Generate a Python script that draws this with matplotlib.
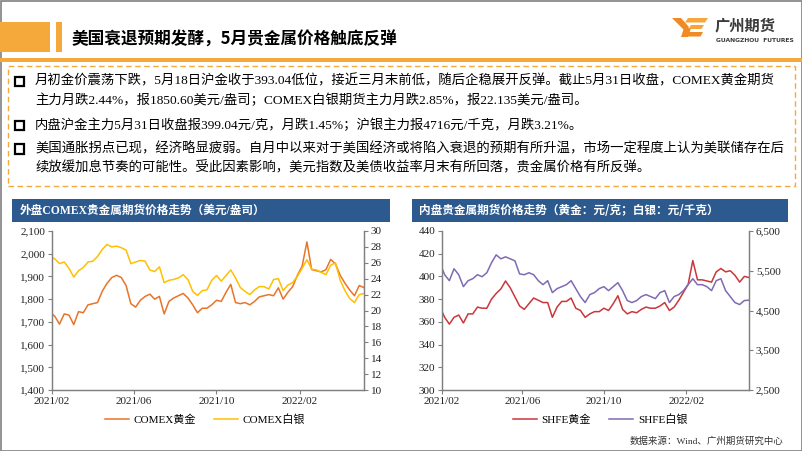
import matplotlib
matplotlib.use('Agg')
import matplotlib.pyplot as plt
import matplotlib.patches as mpatches
from matplotlib.ticker import FuncFormatter, MultipleLocator
import pandas as pd

W, H = 802, 451
MIX = ['Liberation Serif', 'Noto Sans CJK SC']
SANS = ['Noto Sans CJK SC', 'DejaVu Sans']

# weekly points (Tuesdays), first point is the start of the axis
dates = pd.DatetimeIndex(['2021-02-26']).append(
    pd.date_range('2021-03-02', '2022-05-31', freq='W-TUE'))

comex_gold = [1734, 1725, 1690, 1735, 1730, 1688, 1745, 1740, 1775, 1780,
              1785, 1835, 1870, 1895, 1905, 1895, 1860, 1780, 1765, 1795,
              1812, 1822, 1800, 1812, 1735, 1790, 1805, 1815, 1825, 1805,
              1775, 1740, 1760, 1760, 1775, 1795, 1790, 1830, 1865, 1785,
              1780, 1785, 1775, 1790, 1810, 1815, 1820, 1815, 1850, 1800,
              1830, 1855, 1905, 1945, 2052, 1930, 1925, 1920, 1930, 1975,
              1955, 1905, 1870, 1840, 1815, 1860, 1850.6]
comex_silver = [26.7, 26.5, 25.9, 26.1, 25.3, 24.2, 25.0, 25.4, 26.1, 26.2,
                26.8, 27.7, 28.3, 28.0, 28.1, 27.9, 27.6, 25.9, 26.1, 26.3,
                26.2, 25.1, 24.9, 25.5, 23.5, 23.8, 23.9, 24.1, 24.5, 23.9,
                22.4, 21.9, 22.5, 22.6, 23.8, 24.4, 23.7, 24.4, 25.1, 24.1,
                22.9, 22.4, 22.0, 22.6, 23.0, 23.0, 22.7, 23.9, 24.0, 22.5,
                23.2, 23.5, 24.3, 25.3, 26.4, 25.2, 25.1, 24.8, 24.5, 25.7,
                26.0, 23.8, 22.5, 21.5, 21.0, 22.0, 22.135]
shfe_gold = [369, 364, 358, 364, 366, 359, 367, 367, 373, 372,
             372, 380, 385, 389, 396, 390, 382, 374, 371, 376,
             381, 379, 377, 377, 364, 373, 378, 378, 381, 372,
             370, 364, 367, 369, 369, 372, 370, 376, 383, 371,
             367, 369, 368, 371, 373, 372, 372, 374, 377, 370,
             373, 379, 386, 393, 414, 397, 397, 396, 395, 404,
             407, 404, 405, 401, 395, 400, 399.04]
shfe_silver = [5560, 5400, 5250, 5550, 5400, 5100, 5250, 5300, 5400, 5350,
               5450, 5700, 5900, 5800, 5850, 5800, 5750, 5420, 5400, 5450,
               5400, 5250, 5150, 5250, 4950, 5050, 5100, 5150, 5250, 5050,
               4850, 4700, 4900, 4950, 5050, 5100, 5000, 5100, 5200, 5000,
               4750, 4700, 4750, 4850, 4900, 4850, 4800, 4950, 5000, 4700,
               4850, 4900, 5000, 5150, 5300, 5150, 5150, 5100, 5000, 5250,
               5300, 5000, 4850, 4700, 4650, 4750, 4760]

tick_dates = pd.to_datetime(['2021-02-26', '2021-06-26', '2021-10-26', '2022-02-26'])
tick_labels = ['2021/02', '2021/06', '2021/10', '2022/02']
silver_ticks = [2500, 3500, 4500, 5500, 6500]

title = '美国衰退预期发酵，5月贵金属价格触底反弹'
bullets = [
    ['月初金价震荡下跌，5月18日沪金收于393.04低位，接近三月末前低，随后企稳展开反弹。截止5月31日收盘，COMEX黄金期货',
     '主力月跌2.44%，报1850.60美元/盎司；COMEX白银期货主力月跌2.85%，报22.135美元/盎司。'],
    ['内盘沪金主力5月31日收盘报399.04元/克，月跌1.45%；沪银主力报4716元/千克，月跌3.21%。'],
    ['美国通胀拐点已现，经济略显疲弱。自月中以来对于美国经济或将陷入衰退的预期有所升温，市场一定程度上认为美联储存在后',
     '续放缓加息节奏的可能性。受此因素影响，美元指数及美债收益率月末有所回落，贵金属价格有所反弹。'],
]
bullet_y = [[81, 100], [125], [149, 168]]

ORANGE = '#F5A93B'
BLUE = '#2D5A8E'
GRAY = '#808080'

fig = plt.figure(figsize=(W / 100, H / 100), dpi=100)


def fx(x):
    return x / W


def fy(y):
    return 1 - y / H


def rect(x0, y0, x1, y1, **kw):
    fig.patches.append(mpatches.Rectangle((fx(x0), fy(y1)), fx(x1) - fx(x0), fy(y0) - fy(y1),
                                          transform=fig.transFigure, figure=fig, **kw))


def poly(pts, **kw):
    fig.patches.append(mpatches.Polygon([(fx(a), fy(b)) for a, b in pts], closed=True,
                                        transform=fig.transFigure, figure=fig, **kw))


# slide frame and header
rect(0.5, 0.5, W - 0.5, H - 0.5, fill=False, ec=GRAY, lw=1.2)
rect(0, 22, 50, 52, color=ORANGE, lw=0)
rect(56, 22, 62, 52, color=ORANGE, lw=0)
rect(0, 58, W, 62, color=ORANGE, lw=0)
fig.text(fx(72), fy(40), title, fontsize=12, fontweight='bold', va='center', family=SANS)

# logo
poly([(672, 18), (681, 18), (689, 27), (685, 31)], color='#F08A24', lw=0)
poly([(684, 28), (691, 28), (688, 37), (681, 37)], color='#F08A24', lw=0)
poly([(688, 18), (708, 18), (705, 22.5), (685, 22.5)], color='#F7A63C', lw=0)
poly([(691, 25), (704, 25), (701.5, 29), (688.5, 29)], color='#F7A63C', lw=0)
poly([(688, 32), (703, 32), (700.5, 36.5), (685.5, 36.5)], color='#F08A24', lw=0)
fig.text(fx(715), fy(25), '广州期货', fontsize=11, fontweight='bold', color='#3A3A3A',
         va='center', family=SANS)
fig.text(fx(715.5), fy(40), 'GUANGZHOU  FUTURES', fontsize=4.3, fontweight='bold',
         color='#3A3A3A', va='center', family=['DejaVu Sans'])

# summary box
rect(8, 66, 795, 186, fill=False, ec=ORANGE, lw=1.0, ls=(0, (4, 2.5)))
for lines, ys in zip(bullets, bullet_y):
    rect(15, ys[0] - 4.5, 24, ys[0] + 4.5, fill=False, ec='black', lw=1.6)
    for txt, y in zip(lines, ys):
        fig.text(fx(35), fy(y), txt, fontsize=9.6, va='center', family=MIX)

# panel headers
rect(12, 199, 390, 222, color=BLUE, lw=0)
rect(412, 199, 788, 222, color=BLUE, lw=0)
fig.text(fx(20), fy(211), '外盘COMEX贵金属期货价格走势（美元/盎司）', fontsize=8.4,
         fontweight='bold', color='white', va='center', family=MIX)
fig.text(fx(419), fy(211), '内盘贵金属期货价格走势（黄金：元/克；白银：元/千克）', fontsize=8.4,
         fontweight='bold', color='white', va='center', family=SANS)


def style(ax, ax2):
    ax.set_xlim(dates[0], dates[-1])
    ax.set_xticks(tick_dates)
    ax.set_xticklabels(tick_labels)
    for a in (ax, ax2):
        a.spines['top'].set_visible(False)
        for s in ('left', 'right', 'bottom'):
            a.spines[s].set_color(GRAY)
            a.spines[s].set_linewidth(0.9)
        a.tick_params(direction='out', length=3, width=0.8, color=GRAY,
                      labelsize=8, labelcolor='#222222', pad=2)
        for lab in a.get_xticklabels() + a.get_yticklabels():
            lab.set_family('Liberation Serif')
    ax.set_facecolor('none')


comma = FuncFormatter(lambda v, p: f'{v:,.0f}')

# left chart
ax = fig.add_axes([fx(52), fy(390), fx(364) - fx(52), fy(231) - fy(390)])
ax2 = ax.twinx()
l1, = ax.plot(dates, comex_gold, color='#E8742A', lw=1.1, label='COMEX黄金')
l2, = ax2.plot(dates, comex_silver, color='#FFC000', lw=1.1, label='COMEX白银')
ax.set_ylim(1400, 2100)
ax.yaxis.set_major_locator(MultipleLocator(100))
ax.yaxis.set_major_formatter(comma)
ax2.set_ylim(10, 30)
ax2.yaxis.set_major_locator(MultipleLocator(2))
style(ax, ax2)
fig.legend([l1, l2], [l1.get_label(), l2.get_label()], loc='center',
           bbox_to_anchor=(fx(205), fy(420)), ncol=2, frameon=False,
           prop={'family': MIX, 'size': 8}, handlelength=2.2, columnspacing=1.6, handletextpad=0.4)

# right chart
bx = fig.add_axes([fx(442), fy(390), fx(749) - fx(442), fy(231) - fy(390)])
bx2 = bx.twinx()
m1, = bx.plot(dates, shfe_gold, color='#C9373B', lw=1.1, label='SHFE黄金')
m2, = bx2.plot(dates, shfe_silver, color='#7F6BB3', lw=1.1, label='SHFE白银')
bx.set_ylim(300, 440)
bx.yaxis.set_major_locator(MultipleLocator(20))
bx2.set_ylim(2500, 6500)
bx2.set_yticks(silver_ticks)
bx2.yaxis.set_major_formatter(comma)
style(bx, bx2)
fig.legend([m1, m2], [m1.get_label(), m2.get_label()], loc='center',
           bbox_to_anchor=(fx(600), fy(420)), ncol=2, frameon=False,
           prop={'family': MIX, 'size': 8}, handlelength=2.2, columnspacing=1.6, handletextpad=0.4)

fig.text(fx(784), fy(441), '数据来源：Wind、广州期货研究中心', fontsize=6.8, ha='right',
         va='center', family=MIX, color='#333333')

fig.savefig('out.png', dpi=100)
